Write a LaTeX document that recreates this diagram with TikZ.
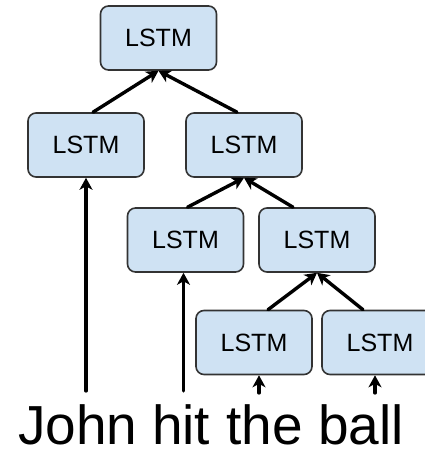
\documentclass[tikz,border=0pt]{standalone}
\usepackage{fontspec}
\setmainfont{Liberation Sans}
\usetikzlibrary{arrows.meta}
\definecolor{cellfill}{HTML}{CFE2F3}
\definecolor{celldraw}{HTML}{333333}
\begin{document}
\begin{tikzpicture}[x=1pt, y=-1pt, line join = round, line cap = round,
  >={Stealth[length=12pt, width=13pt, inset=3.5pt]},
  cell/.style={draw=celldraw, fill=cellfill, line width=1.6pt, rounded corners=8pt,
    minimum width=116pt, minimum height=64pt, inner sep=0pt,
    font=\fontsize{25}{30}\selectfont},
  word/.style={anchor=base west, inner sep=0pt, font=\fontsize{55}{66}\selectfont},
  link/.style={->, line width=3.4pt}]
\useasboundingbox (0,0) rectangle (424,452);
%Các ô LSTM
\node[cell] (root) at (158.5,38) {LSTM};
\node[cell] (l1a) at (86,145) {LSTM};
\node[cell] (l1b) at (244,145) {LSTM};
\node[cell] (l2a) at (185.5,240) {LSTM};
\node[cell] (l2b) at (317,240) {LSTM};
\node[cell] (l3a) at (254,342.5) {LSTM};
\node[cell] (l3b) at (380,342.5) {LSTM};
%Câu vào
\node[word] (john) at (18,444) {John};
\node[word] (hit) at (152,444) {hit};
\node[word] (the) at (226,444) {the};
\node[word] (ball) at (318,444) {ball};
%Điểm vào ở đáy các ô lá
\coordinate (in1) at (l1a.south);
\coordinate (in2) at ([xshift=-2pt]l2a.south);
\coordinate (in3) at ([xshift=5pt]l3a.south);
\coordinate (in4) at ([xshift=-5pt]l3b.south);
%Nối các ô
\draw[link] ([xshift=7pt]l1a.north) -- (root.south);
\draw[link] ([xshift=-7pt]l1b.north) -- (root.south);
\draw[link] ([xshift=2pt]l2a.north) -- (l1b.south);
\draw[link] ([xshift=-24pt]l2b.north) -- (l1b.south);
\draw[link] ([xshift=14pt]l3a.north) -- (l2b.south);
\draw[link] ([xshift=-17pt]l3b.north) -- (l2b.south);
%Từ lên ô
\draw[link] ([yshift=13pt]john.north -| in1) -- (in1);
\draw[link] ([yshift=13pt]hit.north -| in2) -- (in2);
\draw[link] ([yshift=11pt]the.north -| in3) -- (in3);
\draw[link] ([yshift=11pt]ball.north -| in4) -- (in4);
\end{tikzpicture}
\end{document}
